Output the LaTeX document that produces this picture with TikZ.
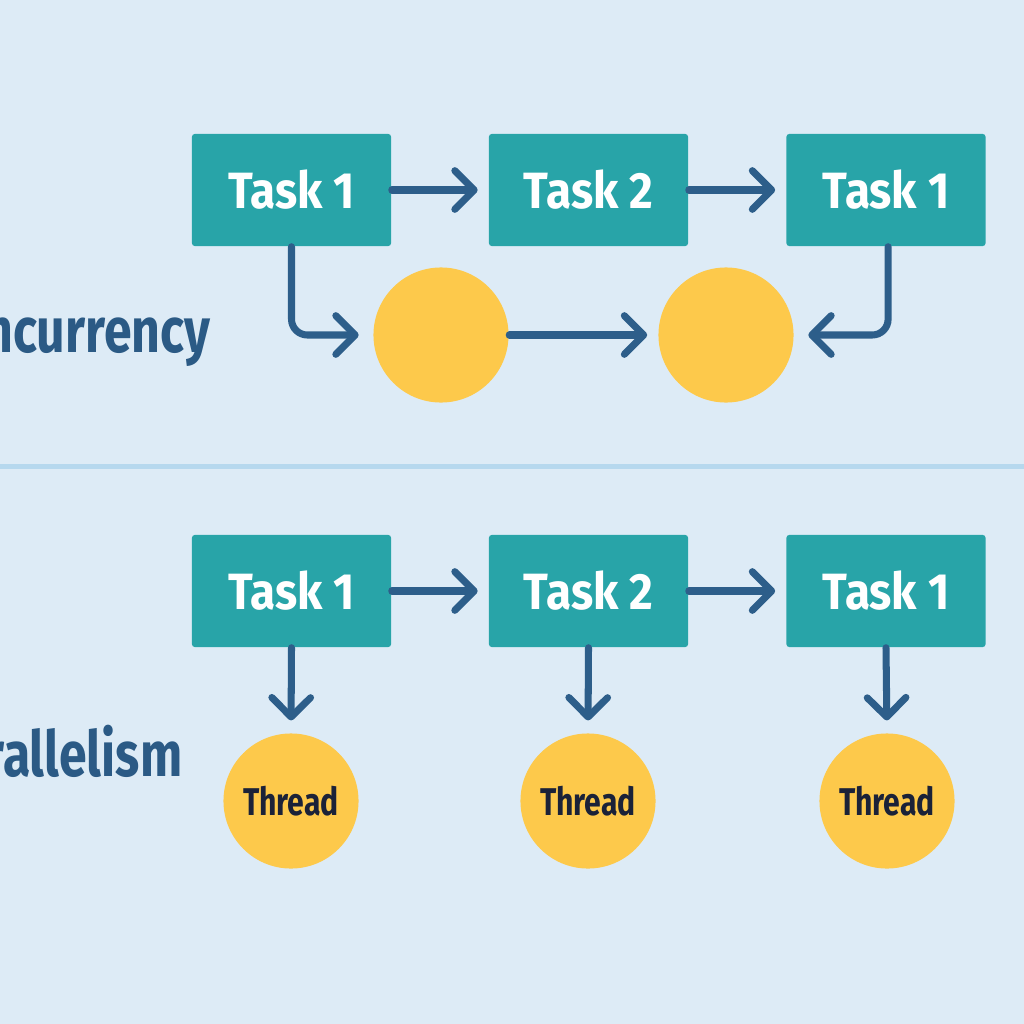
\documentclass[tikz,border=0pt]{standalone}
\usepackage{fontspec}
\setmainfont{Fira Sans}
\newfontfamily\taskfont[FakeStretch=0.9]{Fira Sans}
\newfontfamily\threadfont[FakeStretch=0.78]{Fira Sans}
\newfontfamily\headfont[FakeStretch=0.79]{Fira Sans}
\usetikzlibrary{arrows.meta}
\definecolor{paleblue}{HTML}{DDEBF6}
\definecolor{dividerblue}{HTML}{B6D8EE}
\definecolor{tealbox}{HTML}{28A4A8}
\definecolor{sunyellow}{HTML}{FDC94B}
\definecolor{flowblue}{HTML}{2D5E8A}
\definecolor{titleblue}{HTML}{2B5A85}
\definecolor{inknavy}{HTML}{1B2238}

\tikzset{
	task/.style={fill=tealbox, rounded corners=0.8pt, minimum width=1.99cm, minimum height=1.12cm,
		text=white, font=\taskfont\fontsize{14.5}{16}\selectfont\bfseries},
	worker/.style={circle, fill=sunyellow, minimum size=1.35cm, inner sep=0pt,
		text=inknavy, font=\threadfont\fontsize{11}{13}\selectfont\bfseries},
	flow/.style={flowblue, line width=2pt, line cap=round,
		-{Straight Barb[round, length=5.5pt, width=11pt, line width=2pt]}},
	heading/.style={anchor=base east, inner sep=0pt, text=titleblue,
		font=\headfont\fontsize{18}{20}\selectfont\bfseries}
}

\begin{document}
\begin{tikzpicture}[x=0.01cm, y=-0.01cm]
	\def\rowA{190}
	\def\rowB{591}

	\useasboundingbox[fill=paleblue] (0,0) rectangle (1024,1024);
	\fill[dividerblue] (0,464) rectangle (1024,469);

	% concurrency
	\node[heading] (conc) at (211,352) {Concurrency};

	\node[task] (ca) at (291.5,\rowA) {Task 1};
	\node[task] (cb) at (588.5,\rowA) {Task 2};
	\node[task] (cc) at (886,\rowA) {Task 1};

	\node[worker] (cu) at (441,335) {};
	\node[worker] (cv) at (726,335) {};

	\draw[flow, shorten >=3pt] (ca) -- (cb);
	\draw[flow, shorten >=3pt] (cb) -- (cc);
	\draw[flow, rounded corners=4.5pt, shorten >=4pt] (ca.south) |- (cu.west);
	\draw[flow, shorten >=3pt] (cu) -- (cv);
	\draw[flow, rounded corners=4.5pt, shorten >=4pt] ([xshift=0.6pt]cc.south) |- (cv.east);

	% parallelism
	\node[heading] (par) at (183,776) {Parallelism};

	\node[task] (pa) at (291.5,\rowB) {Task 1};
	\node[task] (pb) at (588.5,\rowB) {Task 2};
	\node[task] (pc) at (886,\rowB) {Task 1};

	\node[worker] (pu) at (291,801) {Thread};
	\node[worker] (pv) at (588,801) {Thread};
	\node[worker] (pw) at (887,801) {Thread};

	\draw[flow, shorten >=3pt] (pa) -- (pb);
	\draw[flow, shorten >=3pt] (pb) -- (pc);
	\foreach \t/\c in {pa/pu, pb/pv, pc/pw}
		\draw[flow, shorten >=3.5pt] (\t.south) -- (\c.north);
\end{tikzpicture}
\end{document}
